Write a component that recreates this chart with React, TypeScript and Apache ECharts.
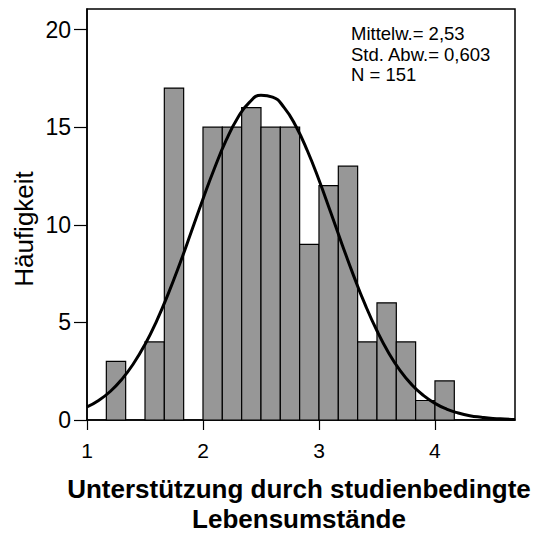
import React, { useEffect, useRef } from "react";
import * as echarts from "echarts";

// Histogram bins (left edge, right edge) and counts
const binLeft = [1.1667, 1.3333, 1.5, 1.6667, 1.8333, 2.0, 2.1667, 2.3333, 2.5, 2.6667, 2.8333, 3.0, 3.1667, 3.3333, 3.5, 3.6667, 3.8333, 4.0];
const binRight = [1.3333, 1.5, 1.6667, 1.8333, 2.0, 2.1667, 2.3333, 2.5, 2.6667, 2.8333, 3.0, 3.1667, 3.3333, 3.5, 3.6667, 3.8333, 4.0, 4.1667];
const counts = [3, 0, 4, 17, 0, 15, 15, 16, 15, 15, 9, 12, 13, 4, 6, 4, 1, 2];

// Normal curve
const curveX = [1.0, 1.1, 1.2, 1.3, 1.4, 1.5, 1.6, 1.7, 1.8, 1.9, 2.0, 2.1, 2.2, 2.3, 2.4, 2.5, 2.6, 2.7, 2.8, 2.9, 3.0, 3.1, 3.2, 3.3, 3.4, 3.5, 3.6, 3.7, 3.8, 3.9, 4.0, 4.1, 4.2, 4.3, 4.4, 4.5, 4.6, 4.69];
const curveY = [0.67, 1.0, 1.46, 2.08, 2.88, 3.87, 5.07, 6.46, 8.0, 9.65, 11.32, 12.91, 14.33, 15.48, 16.27, 16.63, 16.54, 16.0, 15.06, 13.79, 12.29, 10.65, 8.98, 7.37, 5.88, 4.57, 3.45, 2.53, 1.81, 1.26, 0.85, 0.56, 0.36, 0.22, 0.14, 0.08, 0.05, 0.03];

const xTicks = [1, 2, 3, 4];
const yTicks = [0, 5, 10, 15, 20];
const statsLines = ["Mittelw.= 2,53", "Std. Abw.= 0,603", "N = 151"];
const yTitle = "Häufigkeit";
const xTitleLines = ["Unterstützung durch studienbedingte", "Lebensumstände"];

const FONT = "'Liberation Sans', Arial, sans-serif";

export default function App() {
  const ref = useRef<HTMLDivElement>(null);
  useEffect(() => {
    if (!ref.current) return;
    const chart = echarts.init(ref.current, null, { renderer: "svg" });
    const barData = binLeft.map((l, i) => [l, binRight[i], counts[i]]);
    const lineData = curveX.map((x, i) => [x, curveY[i]]);
    chart.setOption({
      animation: false,
      backgroundColor: "#fff",
      textStyle: { fontFamily: FONT },
      grid: {
        left: 87,
        top: 9,
        width: 428,
        height: 411,
        show: true,
        borderColor: "#000",
        borderWidth: 1.5,
        backgroundColor: "transparent",
      },
      xAxis: {
        type: "value",
        min: 1,
        max: 4.69,
        interval: 1,
        splitLine: { show: false },
        axisLine: { show: true, onZero: false, lineStyle: { color: "#000", width: 1.5 } },
        axisTick: { show: true, length: 10, lineStyle: { color: "#000", width: 1.2 }, customValues: xTicks },
        axisLabel: { color: "#000", fontSize: 21, margin: 20, fontFamily: FONT, customValues: xTicks },
      },
      yAxis: {
        type: "value",
        min: 0,
        max: 21.05,
        interval: 5,
        splitLine: { show: false },
        axisLine: { show: true, lineStyle: { color: "#000", width: 1.5 } },
        axisTick: { show: true, length: 13, lineStyle: { color: "#000", width: 1.2 }, customValues: yTicks },
        axisLabel: { color: "#000", fontSize: 23, margin: 16, fontFamily: FONT, customValues: yTicks },
      },
      series: [
        {
          type: "custom",
          data: barData,
          encode: { x: [0, 1], y: 2 },
          renderItem: (params: any, api: any) => {
            const c = api.value(2);
            if (!c) return null;
            const p0 = api.coord([api.value(0), 0]);
            const p1 = api.coord([api.value(1), c]);
            return {
              type: "rect",
              shape: { x: p0[0], y: p1[1], width: p1[0] - p0[0], height: p0[1] - p1[1] },
              style: { fill: "#979797", stroke: "#000", lineWidth: 1.2 },
            };
          },
          z: 2,
        },
        {
          type: "line",
          data: lineData,
          smooth: true,
          symbol: "none",
          lineStyle: { color: "#000", width: 3 },
          z: 3,
        },
      ],
      graphic: [
        ...statsLines.map((t, i) => ({
          type: "text",
          x: 351,
          y: 43 + i * 20.7,
          style: { text: t, fill: "#000", font: `18.5px ${FONT}`, textVerticalAlign: "bottom", textAlign: "left" },
        })),
        {
          type: "text",
          x: 24,
          y: 229,
          rotation: Math.PI / 2,
          style: { text: yTitle, fill: "#000", font: `26px ${FONT}`, textAlign: "center", textVerticalAlign: "middle" },
        },
        ...xTitleLines.map((t, i) => ({
          type: "text",
          x: 299,
          y: 489 + i * 30,
          style: { text: t, fill: "#000", font: `bold 26px ${FONT}`, textAlign: "center", textVerticalAlign: "middle" },
        })),
      ],
    });
    return () => chart.dispose();
  }, []);
  return <div ref={ref} style={{ position: "fixed", left: 0, top: 0, width: 541, height: 536 }} />;
}
